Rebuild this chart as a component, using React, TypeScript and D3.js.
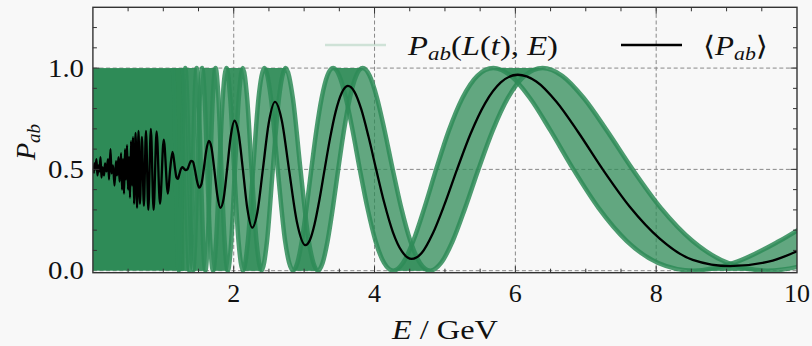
import React, { useEffect, useRef } from "react";
import * as d3 from "d3";

// edges of the green band: the shortest and the longest baseline, sampled at
// equal steps of oscillation phase (edgeP is the probability at each sample)
const edgeP = [
  1, 0.9619, 0.8536, 0.6913, 0.5, 0.3087, 0.1464, 0.0381,
  0, 0.0381, 0.1464, 0.3087, 0.5, 0.6913, 0.8536, 0.9619,
  1, 0.9619, 0.8536, 0.6913, 0.5, 0.3087, 0.1464, 0.0381,
  0, 0.0381, 0.1464, 0.3087, 0.5, 0.6913, 0.8536, 0.9619,
  1, 0.9619, 0.8536, 0.6913, 0.5, 0.3087, 0.1464, 0.0381,
  0, 0.1464, 0.5, 0.8536, 1, 0.8536, 0.5, 0.1464,
  0, 0.1464, 0.5, 0.8536, 1, 0.8536, 0.5, 0.1464,
  0, 0.1464, 0.5, 0.8536, 1, 0.8536, 0.5, 0.1464,
  0, 0.1464, 0.5, 0.8536, 1, 0.8536, 0.5, 0.1464,
  0, 0.1464, 0.5, 0.8536, 1,
];
const edgeShortE = [
  17.061, 15.166, 13.649, 12.408, 11.374, 10.499, 9.749, 9.099,
  8.531, 8.029, 7.583, 7.184, 6.825, 6.5, 6.204, 5.934,
  5.687, 5.46, 5.25, 5.055, 4.875, 4.707, 4.55, 4.403,
  4.265, 4.136, 4.014, 3.9, 3.791, 3.689, 3.592, 3.5,
  3.412, 3.329, 3.25, 3.174, 3.102, 3.033, 2.967, 2.904,
  2.844, 2.73, 2.625, 2.528, 2.437, 2.353, 2.275, 2.201,
  2.133, 2.068, 2.007, 1.95, 1.896, 1.844, 1.796, 1.75,
  1.706, 1.665, 1.625, 1.587, 1.551, 1.517, 1.484, 1.452,
  1.422, 1.393, 1.365, 1.338, 1.312, 1.288, 1.264, 1.241,
  1.219, 1.197, 1.177, 1.157, 1.137,
];
const edgeLongE = [
  19.163, 17.033, 15.33, 13.936, 12.775, 11.792, 10.95, 10.22,
  9.581, 9.018, 8.517, 8.068, 7.665, 7.3, 6.968, 6.665,
  6.388, 6.132, 5.896, 5.678, 5.475, 5.286, 5.11, 4.945,
  4.791, 4.645, 4.509, 4.38, 4.258, 4.143, 4.034, 3.931,
  3.833, 3.739, 3.65, 3.565, 3.484, 3.407, 3.333, 3.262,
  3.194, 3.066, 2.948, 2.839, 2.738, 2.643, 2.555, 2.473,
  2.395, 2.323, 2.254, 2.19, 2.129, 2.072, 2.017, 1.965,
  1.916, 1.87, 1.825, 1.783, 1.742, 1.703, 1.666, 1.631,
  1.597, 1.564, 1.533, 1.503, 1.474, 1.446, 1.419, 1.394,
  1.369, 1.345, 1.322, 1.299, 1.278,
];
// below this energy the curves cover the whole 0..1 range
const fullMixingE = 1.3;

// averaged probability <P_ab>
const meanE = [
  0.01, 0.02, 0.035, 0.05, 0.065, 0.08, 0.094, 0.108, 0.122, 0.136,
  0.158, 0.172, 0.193, 0.215, 0.229, 0.25, 0.264, 0.286, 0.307, 0.328,
  0.343, 0.364, 0.378, 0.4, 0.414, 0.428, 0.442, 0.456, 0.47, 0.485,
  0.499, 0.513, 0.527, 0.542, 0.556, 0.57, 0.584, 0.606, 0.627, 0.648,
  0.668, 0.696, 0.724, 0.754, 0.787, 0.823, 0.862, 0.905, 0.953, 1.006,
  1.065, 1.097, 1.131, 1.168, 1.187, 1.207, 1.227, 1.248, 1.27, 1.293,
  1.317, 1.341, 1.366, 1.393, 1.42, 1.448, 1.478, 1.509, 1.541, 1.574,
  1.609, 1.646, 1.684, 1.724, 1.766, 1.81, 1.857, 1.906, 1.957, 2.011,
  2.069, 2.13, 2.194, 2.263, 2.336, 2.414, 2.497, 2.586, 2.682, 2.785,
  2.896, 3.017, 3.081, 3.148, 3.218, 3.291, 3.368, 3.448, 3.532, 3.621,
  3.713, 3.811, 3.914, 4.023, 4.138, 4.259, 4.389, 4.526, 4.672, 4.827,
  4.994, 5.172, 5.364, 5.57, 5.793, 6.034, 6.297, 6.583, 6.896, 7.241,
  7.622, 8.046, 8.519, 9.051, 9.655, 10,
];
const meanP = [
  0.48, 0.53, 0.5, 0.55, 0.47, 0.52, 0.49, 0.56, 0.46, 0.51,
  0.47, 0.53, 0.49, 0.55, 0.45, 0.6, 0.48, 0.52, 0.42, 0.54,
  0.47, 0.56, 0.44, 0.58, 0.4, 0.55, 0.38, 0.6, 0.45, 0.62,
  0.4, 0.56, 0.36, 0.64, 0.42, 0.66, 0.33, 0.68, 0.31, 0.69,
  0.33, 0.66, 0.32, 0.69, 0.3, 0.7, 0.3, 0.687, 0.33, 0.647,
  0.38, 0.5, 0.586, 0.5, 0.46, 0.453, 0.475, 0.5, 0.511, 0.504,
  0.496, 0.5, 0.521, 0.542, 0.538, 0.5, 0.444, 0.41, 0.427, 0.5,
  0.591, 0.64, 0.608, 0.5, 0.374, 0.31, 0.356, 0.5, 0.661, 0.74,
  0.678, 0.5, 0.305, 0.212, 0.288, 0.5, 0.728, 0.833, 0.743, 0.5,
  0.243, 0.126, 0.15, 0.229, 0.351, 0.5, 0.653, 0.785, 0.876, 0.912,
  0.884, 0.797, 0.662, 0.5, 0.335, 0.192, 0.095, 0.058, 0.088, 0.183,
  0.327, 0.5, 0.676, 0.826, 0.929, 0.967, 0.934, 0.834, 0.682, 0.5,
  0.317, 0.16, 0.053, 0.022, 0.05, 0.096,
];

const xTicks = [2, 4, 6, 8, 10];
const yTicks = [0, 0.5, 1];
const yTickLabels = ["0.0", "0.5", "1.0"];

const W = 812;
const H = 346;
const GREEN = "#2e8b57";
const FONT = "'Liberation Serif', 'DejaVu Serif', serif";

export default function App() {
  const ref = useRef<SVGSVGElement>(null);

  useEffect(() => {
    const svg = d3.select(ref.current);
    svg.selectAll("*").remove();

    const x = d3.scaleLinear().domain([0, 10]).range([92.9, 797]);
    const y = d3.scaleLinear().domain([-0.01, 1.3]).range([272.7, 7.3]);
    const [x0, x1] = x.range();
    const [y0, y1] = y.range();

    svg.append("rect").attr("width", W).attr("height", H).attr("fill", "#f8f8f8");

    svg.append("defs").append("clipPath").attr("id", "plot")
      .append("rect").attr("x", x0).attr("y", y1).attr("width", x1 - x0).attr("height", y0 - y1);

    // grid
    const grid = svg.append("g").attr("stroke", "#888").attr("stroke-width", 1).attr("stroke-dasharray", "4,2.6");
    grid.selectAll(null).data(xTicks.slice(0, -1)).enter().append("line")
      .attr("x1", (d) => x(d)).attr("x2", (d) => x(d)).attr("y1", y1).attr("y2", y0);
    grid.selectAll(null).data(yTicks).enter().append("line")
      .attr("y1", (d) => y(d)).attr("y2", (d) => y(d)).attr("x1", x0).attr("x2", x1);

    const plot = svg.append("g").attr("clip-path", "url(#plot)");

    // dense region, curves fill everything
    plot.append("rect")
      .attr("x", x(0)).attr("width", x(fullMixingE) - x(0))
      .attr("y", y(1)).attr("height", y(0) - y(1))
      .attr("fill", GREEN);

    // band, one strip per half oscillation
    const pts = edgeP.map((p, i) => ({ p, e1: edgeShortE[i], e2: edgeLongE[i] }));
    const strips: typeof pts[] = [];
    let cur = [pts[0]];
    for (let i = 1; i < pts.length; i++) {
      cur.push(pts[i]);
      if (pts[i].p === 0 || pts[i].p === 1) {
        strips.push(cur);
        cur = [pts[i]];
      }
    }
    const edge1 = d3.line<any>().x((d) => x(d.e1)).y((d) => y(d.p)).curve(d3.curveMonotoneX);
    const edge2 = d3.line<any>().x((d) => x(d.e2)).y((d) => y(d.p)).curve(d3.curveMonotoneX);
    strips.forEach((s) => {
      const a = edge1(s.slice().reverse()) || "";
      const b = (edge2(s) || "").replace(/^M/, "L");
      plot.append("path").attr("d", a + b + "Z").attr("fill", GREEN).attr("fill-opacity", 0.74);
    });

    const sorted = pts.slice().reverse();
    [edge1, edge2].forEach((gen) => {
      plot.append("path").attr("d", gen(sorted))
        .attr("fill", "none").attr("stroke", GREEN).attr("stroke-width", 4.5).attr("stroke-opacity", 0.85);
    });

    // mean
    const meanLine = d3.line<number>().x((d) => x(d)).y((_, i) => y(meanP[i])).curve(d3.curveMonotoneX);
    plot.append("path").attr("d", meanLine(meanE))
      .attr("fill", "none").attr("stroke", "#000").attr("stroke-width", 2.3).attr("stroke-linejoin", "round");

    // frame and ticks
    const axisColor = "#333";
    svg.append("rect").attr("x", x0).attr("y", y1).attr("width", x1 - x0).attr("height", y0 - y1)
      .attr("fill", "none").attr("stroke", axisColor).attr("stroke-width", 1.4);

    const ticks = svg.append("g").attr("stroke", axisColor).attr("stroke-width", 1);
    d3.range(0.5, 10, 0.5).forEach((v) => {
      const len = v % 2 === 0 ? 6.5 : 4;
      ticks.append("line").attr("x1", x(v)).attr("x2", x(v)).attr("y1", y0).attr("y2", y0 - len);
      ticks.append("line").attr("x1", x(v)).attr("x2", x(v)).attr("y1", y1).attr("y2", y1 + len);
    });
    d3.range(0.1, 1.3, 0.1).forEach((v) => {
      const major = Math.abs(v - 0.5) < 1e-6 || Math.abs(v - 1) < 1e-6;
      const len = major ? 6.5 : 4;
      ticks.append("line").attr("x1", x0).attr("x2", x0 + len).attr("y1", y(v)).attr("y2", y(v));
      ticks.append("line").attr("x1", x1).attr("x2", x1 - len).attr("y1", y(v)).attr("y2", y(v));
    });

    // tick labels
    const text = svg.append("g").attr("font-family", FONT).attr("fill", "#111");
    text.selectAll(null).data(xTicks).enter().append("text")
      .attr("x", (d) => x(d)).attr("y", 302).attr("text-anchor", "middle").attr("font-size", 26)
      .text((d) => d);
    text.selectAll(null).data(yTicks).enter().append("text")
      .attr("x", 84).attr("y", (d) => y(d) + 8.5).attr("text-anchor", "end").attr("font-size", 26)
      .attr("textLength", 36).attr("lengthAdjust", "spacingAndGlyphs")
      .text((_, i) => yTickLabels[i]);

    // axis labels
    const xl = text.append("text").attr("x", (x0 + x1) / 2).attr("y", 339)
      .attr("text-anchor", "middle").attr("font-size", 27)
      .attr("textLength", 106).attr("lengthAdjust", "spacingAndGlyphs");
    xl.append("tspan").attr("font-style", "italic").text("E");
    xl.append("tspan").text(" / GeV");

    const yl = text.append("text").attr("transform", `translate(35,${(y0 + y1) / 2 + 2}) rotate(-90)`)
      .attr("text-anchor", "middle").attr("font-size", 28);
    yl.append("tspan").attr("font-style", "italic").text("P");
    yl.append("tspan").attr("font-style", "italic").attr("font-size", 19).attr("dy", 5).text("ab");

    // legend
    const leg = svg.append("g").attr("font-family", FONT).attr("font-size", 27).attr("fill", "#111");
    leg.append("line").attr("x1", 325).attr("x2", 386).attr("y1", 45).attr("y2", 45)
      .attr("stroke", GREEN).attr("stroke-opacity", 0.2).attr("stroke-width", 2.5);
    const l1 = leg.append("text").attr("x", 408).attr("y", 55)
      .attr("textLength", 150).attr("lengthAdjust", "spacingAndGlyphs");
    l1.append("tspan").attr("font-style", "italic").text("P");
    l1.append("tspan").attr("font-style", "italic").attr("font-size", 19).attr("dy", 5).text("ab");
    l1.append("tspan").attr("dy", -5).text("(");
    l1.append("tspan").attr("font-style", "italic").text("L");
    l1.append("tspan").text("(");
    l1.append("tspan").attr("font-style", "italic").text("t");
    l1.append("tspan").text("), ");
    l1.append("tspan").attr("font-style", "italic").text("E");
    l1.append("tspan").text(")");

    leg.append("line").attr("x1", 621).attr("x2", 682).attr("y1", 45).attr("y2", 45)
      .attr("stroke", "#000").attr("stroke-width", 2.3);
    const l2 = leg.append("text").attr("x", 703).attr("y", 55)
      .attr("textLength", 65).attr("lengthAdjust", "spacingAndGlyphs");
    l2.append("tspan").text("\u27E8");
    l2.append("tspan").attr("font-style", "italic").text("P");
    l2.append("tspan").attr("font-style", "italic").attr("font-size", 19).attr("dy", 5).text("ab");
    l2.append("tspan").attr("dy", -5).text("\u27E9");
  }, []);

  return (
    <div style={{ position: "fixed", left: 0, top: 0 }}>
      <svg ref={ref} width={W} height={H} style={{ display: "block" }} />
    </div>
  );
}
